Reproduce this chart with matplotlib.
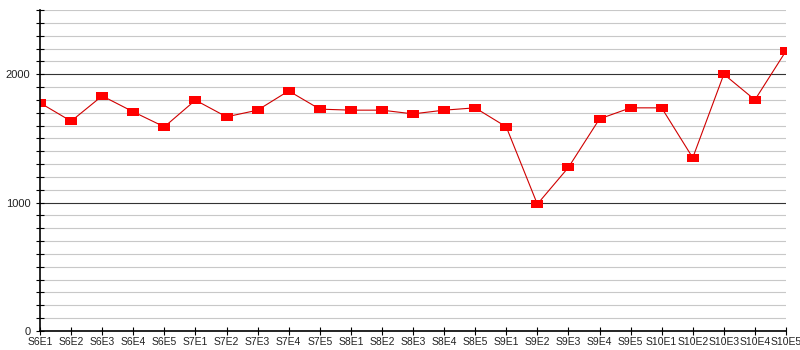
import matplotlib
matplotlib.use('Agg')
import matplotlib.pyplot as plt
from matplotlib.ticker import MultipleLocator, FixedLocator

episodes = ['S6E1', 'S6E2', 'S6E3', 'S6E4', 'S6E5',
            'S7E1', 'S7E2', 'S7E3', 'S7E4', 'S7E5',
            'S8E1', 'S8E2', 'S8E3', 'S8E4', 'S8E5',
            'S9E1', 'S9E2', 'S9E3', 'S9E4', 'S9E5',
            'S10E1', 'S10E2', 'S10E3', 'S10E4', 'S10E5']
values = [1777, 1634, 1831, 1707, 1590,
          1798, 1668, 1720, 1870, 1728,
          1720, 1720, 1691, 1720, 1738,
          1590, 988, 1274, 1652, 1738,
          1738, 1349, 2000, 1800, 2181]
y_major = [0, 1000, 2000]

plt.rcParams['font.family'] = ['Liberation Sans', 'DejaVu Sans']

fig = plt.figure(figsize=(8, 3.5), dpi=100)
ax = fig.add_axes([0.05, 0.0543, 0.9325, 0.9171])

x = list(range(len(episodes)))
rect = [(-1.5, -1), (1.5, -1), (1.5, 1), (-1.5, 1)]
ax.plot(x, values, color='#d00000', linewidth=0.8, marker=rect,
        markersize=8.6, markerfacecolor='#ff0000', markeredgewidth=0,
        zorder=3)

ax.set_xlim(0, len(episodes) - 1)
ax.set_ylim(0, 2500)

ax.yaxis.set_major_locator(FixedLocator(y_major))
ax.yaxis.set_minor_locator(MultipleLocator(100))
ax.grid(which='minor', axis='y', color='#c8c8c8', linewidth=0.8)
ax.grid(which='major', axis='y', color='#333333', linewidth=0.8)
ax.set_axisbelow(True)

ax.set_xticks(x)
ax.set_xticklabels(episodes)
ax.tick_params(axis='x', direction='inout', length=6, width=0.8,
               labelsize=7.5, pad=1, colors='black', labelcolor='#222222')
ax.tick_params(axis='y', which='both', direction='inout', length=6,
               width=0.8, labelsize=8, pad=4, labelcolor='#222222')

for s in ['top', 'right']:
    ax.spines[s].set_visible(False)
for s in ['left', 'bottom']:
    ax.spines[s].set_linewidth(1.2)
    ax.spines[s].set_zorder(4)

plt.savefig('out.png', dpi=100)
plt.close()
